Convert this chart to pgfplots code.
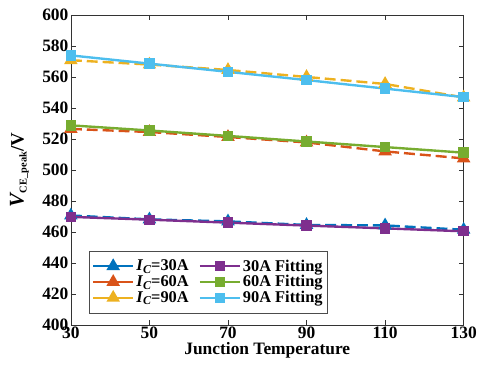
\documentclass[border=0pt]{standalone}
\usepackage{pgfplots}
\pgfplotsset{compat=1.18}
\usepackage{fontspec}
\setmainfont{Liberation Serif}
\definecolor{mb}{rgb}{0,0.447,0.741}
\definecolor{mo}{rgb}{0.85,0.325,0.098}
\definecolor{my}{rgb}{0.929,0.694,0.125}
\definecolor{mp}{rgb}{0.494,0.184,0.556}
\definecolor{mg}{rgb}{0.466,0.674,0.188}
\definecolor{mc}{rgb}{0.301,0.745,0.933}
\begin{document}
\begin{tikzpicture}
\begin{axis}[
  scale only axis, width=395bp, height=312bp,
  xmin=30, xmax=130, ymin=400, ymax=600,
  xtick={30,50,70,90,110,130},
  ytick={400,420,...,600},
  tick align=inside,
  major tick length=5bp,
  axis line style={line width=0.6pt, black!80},
  tick style={black!80, line width=0.6pt},
  /pgf/number format/assume math mode=true,
  ticklabel style={font=\fontsize{17.5bp}{19bp}\selectfont\bfseries},
  yticklabel style={xshift=1bp},
  xticklabel style={yshift=2bp},
  xlabel={\textbf{Junction Temperature}},
  xlabel style={font=\fontsize{17.5bp}{19bp}\selectfont, yshift=3bp},
  ylabel={\bfseries{\fontsize{21bp}{22bp}\selectfont\itshape V}{\fontsize{10.5bp}{12bp}\selectfont\raisebox{-3bp}{CE\_peak}}{\fontsize{19bp}{20bp}\selectfont /V}},
  ylabel style={yshift=0bp, inner ysep=10bp},
  legend columns=2,
  legend style={at={(0.046,0.038)}, anchor=south west, draw=black!70,
    font=\fontsize{16.5bp}{17bp}\selectfont\bfseries, row sep=-1bp,
    inner xsep=3bp, inner ysep=7bp,
    /tikz/every even column/.append style={column sep=8bp}},
  legend image code/.code={\draw[#1,solid,mark repeat=2,mark phase=2] plot coordinates {(0bp,0bp) (20bp,0bp) (40bp,0bp)};},
  every axis plot/.append style={line width=2.4pt},
]
\addplot[color=mb, dashed, dash pattern=on 11bp off 5bp, mark=triangle*, mark size=5.5bp, mark options={solid,fill=mb}]
 coordinates {(30,470.7) (50,468.2) (70,466.9) (90,464.6) (110,464.3) (130,461.5)};
\addlegendentry{\textit{I}{\fontsize{12bp}{12bp}\selectfont\raisebox{-2.5bp}{\textit{C}}}=30A}
\addplot[color=mp, mark=square*, mark size=4bp, mark options={fill=mp}]
 coordinates {(30,469.8) (50,468.0) (70,466.1) (90,464.2) (110,462.4) (130,460.5)};
\addlegendentry{30A Fitting}
\addplot[color=mo, dashed, dash pattern=on 11bp off 5bp, mark=triangle*, mark size=5.5bp, mark options={solid,fill=mo}]
 coordinates {(30,526.5) (50,524.5) (70,521.3) (90,517.8) (110,512.0) (130,507.5)};
\addlegendentry{\textit{I}{\fontsize{12bp}{12bp}\selectfont\raisebox{-2.5bp}{\textit{C}}}=60A}
\addplot[color=mg, mark=square*, mark size=4bp, mark options={fill=mg}]
 coordinates {(30,528.8) (50,525.5) (70,522.0) (90,518.4) (110,514.8) (130,511.2)};
\addlegendentry{60A Fitting}
\addplot[color=my, dashed, dash pattern=on 11bp off 5bp, mark=triangle*, mark size=5.5bp, mark options={solid,fill=my}]
 coordinates {(30,570.8) (50,568.0) (70,564.5) (90,560.0) (110,555.5) (130,546.8)};
\addlegendentry{\textit{I}{\fontsize{12bp}{12bp}\selectfont\raisebox{-2.5bp}{\textit{C}}}=90A}
\addplot[color=mc, mark=square*, mark size=4bp, mark options={fill=mc}]
 coordinates {(30,573.9) (50,568.6) (70,563.3) (90,558.0) (110,552.5) (130,547.0)};
\addlegendentry{90A Fitting}
\end{axis}
\path (current axis.north) ++(0,15bp);
\path (current axis.south) ++(0,-41bp);
\end{tikzpicture}
\end{document}
